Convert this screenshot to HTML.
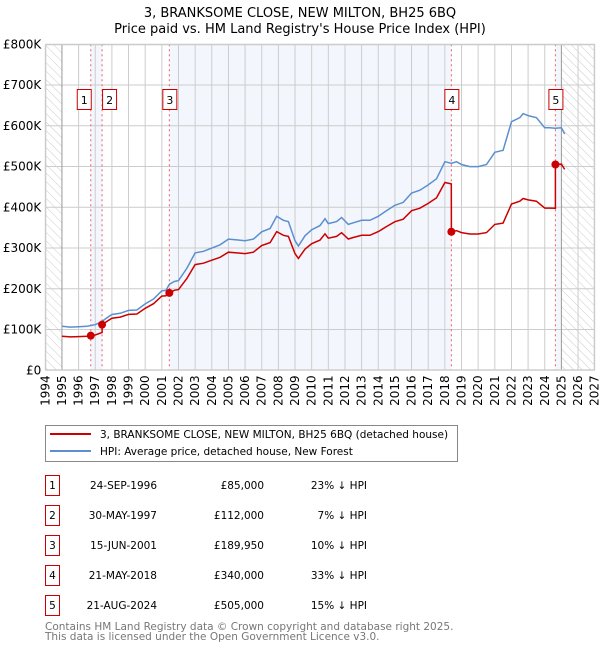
<!DOCTYPE html>
<html><head><meta charset="utf-8"><style>
body{margin:0;background:#fff;width:600px;height:650px;overflow:hidden;font-family:"DejaVu Sans","Liberation Sans",sans-serif}
svg text{font-family:"DejaVu Sans","Liberation Sans",sans-serif}
</style></head><body>
<svg id="c" width="600" height="650" xmlns="http://www.w3.org/2000/svg">
<defs><pattern id="hatch" width="6" height="6" patternUnits="userSpaceOnUse" patternTransform="rotate(-45)"><line x1="0" y1="0" x2="0" y2="6" stroke="#ccc" stroke-width="1"/></pattern></defs>
<text x="300" y="17" text-anchor="middle" font-size="13">3, BRANKSOME CLOSE, NEW MILTON, BH25 6BQ</text>
<text x="300" y="33" text-anchor="middle" font-size="13">Price paid vs. HM Land Registry's House Price Index (HPI)</text>
<g id="plot"></g>
<g>
<rect x="45.5" y="425.5" width="412" height="36" fill="#fff" stroke="#888"/>
<line x1="50" y1="434" x2="91" y2="434" stroke="#cc0000" stroke-width="2"/>
<text x="100" y="438" font-size="10.5">3, BRANKSOME CLOSE, NEW MILTON, BH25 6BQ (detached house)</text>
<line x1="50" y1="451" x2="91" y2="451" stroke="#5b8fd0" stroke-width="2"/>
<text x="100" y="455" font-size="10.5">HPI: Average price, detached house, New Forest</text>
</g>
<g id="table"></g>
<text x="45" y="630" font-size="10.5" fill="#777">Contains HM Land Registry data © Crown copyright and database right 2025.</text>
<text x="45" y="640" font-size="10.5" fill="#777">This data is licensed under the Open Government Licence v3.0.</text>
</svg>
<script>
const hpiYears=[1995.0,1995.5,1996.0,1996.5,1996.73,1997.0,1997.41,1997.75,1998.0,1998.5,1999.0,1999.5,2000.0,2000.5,2001.0,2001.25,2001.45,2001.75,2002.0,2002.5,2003.0,2003.5,2004.0,2004.5,2005.0,2005.5,2006.0,2006.5,2007.0,2007.5,2007.9,2008.3,2008.6,2009.0,2009.2,2009.6,2010.0,2010.5,2010.8,2011.0,2011.5,2011.8,2012.2,2012.5,2013.0,2013.5,2014.0,2014.5,2015.0,2015.5,2016.0,2016.5,2017.0,2017.5,2018.0,2018.4,2018.7,2019.0,2019.5,2020.0,2020.5,2021.0,2021.5,2022.0,2022.5,2022.7,2023.0,2023.5,2024.0,2024.3,2024.63,2025.0,2025.2];
const hpiValues=[108,106,107,108,110,112,120,130,137,140,147,148,163,175,195,196,211,218,220,250,288,292,300,308,322,320,318,322,340,348,378,368,365,318,305,330,345,355,372,360,365,375,358,362,368,368,378,392,405,412,435,442,455,470,512,508,512,505,500,500,505,535,540,610,620,630,625,620,595,595,594,595,580];
const saleYears=[1996.73,1997.41,2001.45,2018.39,2024.64];
const salePrices=[85,112,189.95,340,505];
const saleLabels=["1","2","3","4","5"];
const saleDates=["24-SEP-1996","30-MAY-1997","15-JUN-2001","21-MAY-2018","21-AUG-2024"];
const salePriceText=["£85,000","£112,000","£189,950","£340,000","£505,000"];
const salePctText=["23% ↓ HPI","7% ↓ HPI","10% ↓ HPI","33% ↓ HPI","15% ↓ HPI"];
const yTicks=[0,100,200,300,400,500,600,700,800];
const yTickLabels=["£0","£100K","£200K","£300K","£400K","£500K","£600K","£700K","£800K"];
const xTicks=[1994,1995,1996,1997,1998,1999,2000,2001,2002,2003,2004,2005,2006,2007,2008,2009,2010,2011,2012,2013,2014,2015,2016,2017,2018,2019,2020,2021,2022,2023,2024,2025,2026,2027];

const X0=45.3,X1=594.7,Y0=370.3,Y1=44.3;
const xs=y=>X0+(y-1994)/33*(X1-X0);
const ys=v=>Y0-v/800*(Y0-Y1);
const NS="http://www.w3.org/2000/svg";
const plot=document.getElementById('plot');
function mk(tag,attrs,parent){const e=document.createElementNS(NS,tag);for(const k in attrs)e.setAttribute(k,attrs[k]);(parent||plot).appendChild(e);return e;}
function hpiAt(t){for(let i=1;i<hpiYears.length;i++){if(t<=hpiYears[i]){const a=hpiYears[i-1],b=hpiYears[i];return hpiValues[i-1]+(hpiValues[i]-hpiValues[i-1])*(t-a)/(b-a);}}return hpiValues[hpiValues.length-1];}

let r=mk('rect',{x:X0,y:Y1,width:X1-X0,height:Y0-Y1,fill:'#fff'});


const bands=[[saleYears[0],saleYears[1]],[saleYears[2],saleYears[3]],[saleYears[4],2025]];
bands.forEach((b,i)=>{const e=mk('rect',{x:xs(b[0]),y:Y1,width:xs(b[1])-xs(b[0]),height:Y0-Y1,fill:'#eef3fc',opacity:0.7});

});
let h1=mk('rect',{x:X0,y:Y1,width:xs(1995)-X0,height:Y0-Y1,fill:'url(#hatch)'});


let h2=mk('rect',{x:xs(2025),y:Y1,width:X1-xs(2025),height:Y0-Y1,fill:'url(#hatch)'});


yTicks.forEach((v,i)=>{const l=mk('line',{x1:X0,x2:X1,y1:ys(v),y2:ys(v),stroke:'#ccc'});


const t=mk('text',{x:X0-4,y:ys(v)+4,'text-anchor':'end','font-size':12});t.textContent=yTickLabels[i];

});
xTicks.forEach(y=>{const l=mk('line',{x1:xs(y),x2:xs(y),y1:Y1,y2:Y0,stroke:(y==1995||y==2025)?'#999':'#ccc'});


const t=mk('text',{x:0,y:0,'text-anchor':'end','font-size':12,transform:`translate(${xs(y)+4},${Y0+5}) rotate(-90)`});t.textContent=y;

});
saleYears.forEach((s,i)=>{const l=mk('line',{x1:xs(s),x2:xs(s),y1:Y1,y2:Y0,stroke:'#f06060','stroke-dasharray':'2,3'});

});
let d=hpiYears.map((y,i)=>(i?'L':'M')+xs(y).toFixed(1)+','+ys(hpiValues[i]).toFixed(1)).join('');
let hl=mk('path',{d:d,fill:'none',stroke:'#5b8fd0','stroke-width':1.5});


const ts=[...new Set([...hpiYears,...saleYears.map(s=>s-0.001),...saleYears])].sort((a,b)=>a-b);
let pd='';ts.forEach((t,i)=>{let k=0;for(let j=0;j<saleYears.length;j++)if(t>=saleYears[j])k=j;
const v=salePrices[k]*hpiAt(t)/hpiAt(saleYears[k]);pd+=(i?'L':'M')+xs(t).toFixed(1)+','+ys(v).toFixed(1);});
let pl=mk('path',{d:pd,fill:'none',stroke:'#cc0000','stroke-width':1.5});


saleYears.forEach((s,i)=>{const c=mk('circle',{cx:xs(s),cy:ys(salePrices[i]),r:4,fill:'#cc0000'});


const bx=xs(s)-(i==0?14:(i==1?0:7));
const b=mk('rect',{x:bx+0.5,y:89.5,width:14,height:20,fill:'#fff',stroke:'#cc0000'});


const t=mk('text',{x:bx+7.5,y:104,'text-anchor':'middle','font-size':11});t.textContent=saleLabels[i];

});
let fr=mk('rect',{x:X0+0.5,y:Y1+0.5,width:X1-X0-1,height:Y0-Y1-1,fill:'none',stroke:'#ccc'});


const tb=document.getElementById('table');
saleYears.forEach((s,i)=>{const y=475+i*30;
const g=mk('g',{},tb);


mk('rect',{x:45.5,y:y+0.5,width:14,height:20,fill:'#fff',stroke:'#cc0000'},g);
const a=mk('text',{x:52.5,y:y+14,'text-anchor':'middle','font-size':10.5},g);a.textContent=saleLabels[i];
const b=mk('text',{x:157,y:y+14,'text-anchor':'end','font-size':10.5},g);b.textContent=saleDates[i];
const c=mk('text',{x:264,y:y+14,'text-anchor':'end','font-size':10.5},g);c.textContent=salePriceText[i];
const e=mk('text',{x:367,y:y+14,'text-anchor':'end','font-size':10.5},g);e.textContent=salePctText[i];});
</script>
</body></html>
